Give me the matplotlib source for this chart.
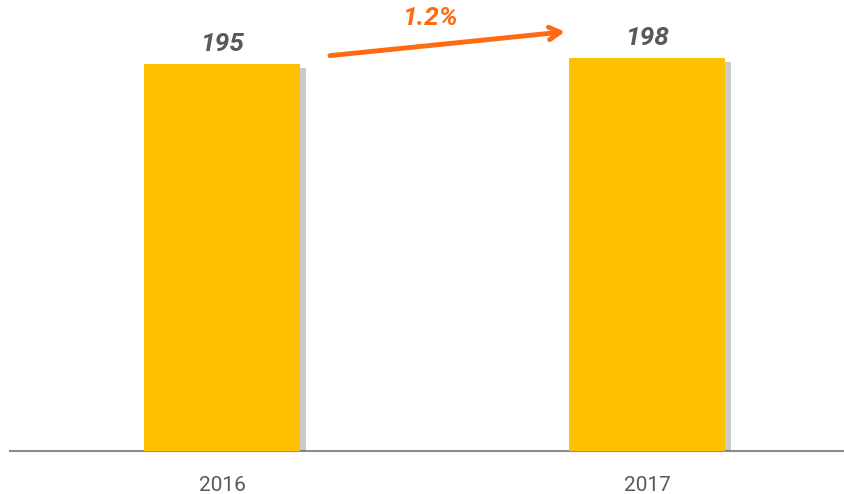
import matplotlib.pyplot as plt
import matplotlib.patheffects as pe

# -------------------------
# Data
# -------------------------
years = ["2016", "2017"]
values = [195, 198]
change_label = "1.2%"

BAR_COLOR = "#FFC000"
ARROW_COLOR = "#FF6A13"
TEXT_COLOR = "#595959"

plt.rcParams["font.family"] = ["Roboto", "DejaVu Sans"]

fig = plt.figure(figsize=(8.45, 4.94), dpi=100)
ax = fig.add_axes([10 / 845, 43 / 494, 835 / 845, 451 / 494])

x = list(range(len(years)))
bars = ax.bar(x, values, width=0.367, color=BAR_COLOR, zorder=3)
for b in bars:
    b.set_path_effects([
        pe.SimplePatchShadow(offset=(4, -3), shadow_rgbFace="#555555", alpha=0.3),
        pe.Normal(),
    ])

for xi, v in zip(x, values):
    ax.text(xi, v + 4, str(v), ha="center", va="bottom", fontsize=19,
            fontweight="bold", fontstyle="italic", color=TEXT_COLOR)

# growth arrow between the bars
ax.annotate("", xy=(0.806, 211), xytext=(0.253, 199),
            arrowprops=dict(arrowstyle="->,head_length=0.8,head_width=0.45",
                            color=ARROW_COLOR, lw=3.5, shrinkA=0, shrinkB=0),
            zorder=4)
ax.text(0.488, 218, change_label, ha="center", va="center", fontsize=19,
        fontweight="bold", fontstyle="italic", color=ARROW_COLOR)

ax.set_xlim(-0.5, 1.465)
ax.set_ylim(0, 227)
ax.set_xticks(x)
ax.set_xticklabels(years, fontsize=15, color=TEXT_COLOR)
ax.tick_params(axis="x", length=0, pad=18)
ax.set_yticks([])
for side in ["top", "right", "left"]:
    ax.spines[side].set_visible(False)
ax.spines["bottom"].set_color("#8C8C8C")
ax.spines["bottom"].set_linewidth(1.5)

fig.savefig("out.png", dpi=100)
